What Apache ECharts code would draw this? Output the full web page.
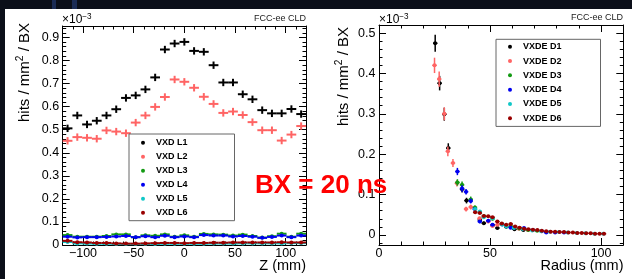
<!DOCTYPE html>
<html>
<head>
<meta charset="utf-8">
<script src="https://cdn.jsdelivr.net/npm/echarts@6/dist/echarts.min.js"></script>
<style>
  html, body { margin: 0; padding: 0; background: #0b0f19; }
  #chart { width: 632px; height: 279px; }
</style>
</head>
<body>
<div id="chart"></div>
<script>
// ---- left panel: hits vs Z, barrel layers (25 bins of 9.6 mm)
const zCenters = [-115.2, -105.6, -96.0, -86.4, -76.8, -67.2, -57.6, -48.0, -38.4, -28.8, -19.2, -9.6,
  0.0, 9.6, 19.2, 28.8, 38.4, 48.0, 57.6, 67.2, 76.8, 86.4, 96.0, 105.6, 115.2];
const vxdL1 = [0.506, 0.562, 0.523, 0.539, 0.562, 0.589, 0.638, 0.649, 0.675, 0.727, 0.848, 0.874,
  0.881, 0.842, 0.838, 0.780, 0.705, 0.705, 0.654, 0.632, 0.585, 0.571, 0.571, 0.590, 0.568];
const vxdL2 = [0.452, 0.468, 0.465, 0.461, 0.497, 0.492, 0.485, 0.531, 0.562, 0.599, 0.642, 0.718,
  0.708, 0.682, 0.643, 0.612, 0.573, 0.579, 0.564, 0.533, 0.498, 0.498, 0.453, 0.479, 0.516];
const vxdL3 = [0.043, 0.036, 0.036, 0.036, 0.039, 0.046, 0.046, 0.034, 0.042, 0.040, 0.046, 0.036,
  0.042, 0.036, 0.048, 0.046, 0.045, 0.041, 0.045, 0.039, 0.032, 0.038, 0.049, 0.036, 0.049];
const vxdL4 = [0.036, 0.033, 0.034, 0.034, 0.035, 0.037, 0.039, 0.034, 0.038, 0.034, 0.040, 0.034,
  0.037, 0.034, 0.043, 0.041, 0.041, 0.037, 0.039, 0.036, 0.031, 0.035, 0.041, 0.034, 0.041];
const vxdL5 = [0.013, 0.007, 0.006, 0.005, 0.005, 0.004, 0.004, 0.004, 0.004, 0.004, 0.005, 0.005,
  0.005, 0.005, 0.005, 0.006, 0.006, 0.006, 0.007, 0.007, 0.007, 0.007, 0.007, 0.008, 0.008];
const vxdL6 = [0.018, 0.012, 0.011, 0.009, 0.009, 0.007, 0.006, 0.006, 0.007, 0.008, 0.009, 0.009,
  0.008, 0.009, 0.009, 0.010, 0.010, 0.011, 0.011, 0.011, 0.011, 0.011, 0.012, 0.011, 0.011];
const zErrHigh = 0.016;   // L1/L2 uncertainty
const zErrLow = 0.003;    // L3..L6 uncertainty

// ---- right panel: hits vs radius, endcap disks
const rD1 = [25.3, 27.3, 29.4, 31.2, 37.4, 39.4, 45.4, 47.2, 51.2, 53.3, 57.3, 61.0, 65.0];
const vD1 = [0.475, 0.376, 0.299, 0.215, 0.113, 0.085, 0.037, 0.029, 0.024, 0.017, 0.020, 0.014, 0.012];
const eD1 = [0.021, 0.018, 0.016, 0.012, 0.008, 0.007, 0.004, 0.004, 0.003, 0.003, 0.003, 0.002, 0.002];
const rD2 = [25.0, 27.1, 29.4, 31.0, 33.3, 35.1, 39.2, 41.3, 45.3, 49.2, 51.1, 53.3, 59.3, 63.0, 67.0];
const vD2 = [0.420, 0.386, 0.300, 0.207, 0.178, 0.128, 0.064, 0.069, 0.041, 0.033, 0.022, 0.025, 0.021, 0.015, 0.012];
const eD2 = [0.019, 0.019, 0.016, 0.012, 0.010, 0.008, 0.006, 0.006, 0.004, 0.004, 0.003, 0.003, 0.003, 0.002, 0.002];
const rD3 = [35.3, 37.4, 41.3, 43.2, 47.3, 51.1, 55.3, 59.3, 63.2, 67.2, 71.2];
const vD3 = [0.130, 0.124, 0.088, 0.068, 0.046, 0.040, 0.027, 0.021, 0.016, 0.012, 0.010];
const eD3 = [0.008, 0.008, 0.007, 0.005, 0.004, 0.004, 0.003, 0.003, 0.002, 0.002, 0.002];
const rD4 = [35.3, 37.4, 39.2, 41.3, 43.1, 45.4, 49.2, 51.1, 55.5, 59.3, 65.3, 69.3, 73.3, 75.3, 79.3, 83.3];
const vD4 = [0.157, 0.115, 0.107, 0.084, 0.064, 0.033, 0.035, 0.025, 0.026, 0.018, 0.017, 0.012, 0.009, 0.006, 0.006, 0.006];
const eD4 = [0.009, 0.008, 0.007, 0.006, 0.005, 0.004, 0.004, 0.003, 0.003, 0.002, 0.002, 0.002, 0.001, 0.001, 0.001, 0.001];
const rD5 = [43.3, 45.4, 47.2, 51.1, 55.5, 57.3, 60.8, 64.8, 69.0, 73.0, 77.0, 81.0, 85.0, 89.0, 93.0, 97.0, 101.0];
const vD5 = [0.064, 0.058, 0.044, 0.041, 0.026, 0.021, 0.017, 0.014, 0.011, 0.009, 0.008, 0.007, 0.006, 0.005, 0.004, 0.003, 0.003];
const rD6 = [43.3, 45.4, 47.2, 49.2, 51.1, 53.3, 55.3, 57.3, 59.3, 61.3, 63.3, 65.3, 67.3, 69.3, 71.3,
  73.3, 75.3, 77.3, 79.3, 81.3, 83.3, 85.3, 87.3, 89.3, 91.3, 93.3, 95.3, 97.3, 99.3, 101.3];
const vD6 = [0.056, 0.054, 0.047, 0.046, 0.044, 0.033, 0.028, 0.025, 0.027, 0.021, 0.018, 0.015, 0.014, 0.013, 0.012,
  0.010, 0.009, 0.008, 0.008, 0.007, 0.007, 0.006, 0.006, 0.005, 0.005, 0.004, 0.004, 0.003, 0.003, 0.003];
const rErrLow = 0.002;

// ---- ticks
const zTicks = [-100, -50, 0, 50, 100];
const rTicks = [0, 50, 100];
const yLeftTicks = [0, 0.1, 0.2, 0.3, 0.4, 0.5, 0.6, 0.7, 0.8, 0.9];
const yRightTicks = [0, 0.1, 0.2, 0.3, 0.4, 0.5];

const colors = ['#000000', '#ff6464', '#139a13', '#0000f0', '#10c8c8', '#990000'];
const FONT = 'Liberation Sans, Arial, Helvetica, sans-serif';

function steps(a, b, s) {
  const out = [];
  for (let v = a; v <= b + 1e-9; v += s) out.push(+v.toFixed(4));
  return out;
}
const fmtX = v => (v < 0 ? '\u2212' + Math.abs(v) : String(v));
const fmtY = v => (v === 0 ? '0' : v.toFixed(1));

function frameAxes(grid, min, max, major, minor, fmt, isX) {
  const base = { gridIndex: grid, type: 'value', min, max, splitLine: { show: false } };
  const line = { show: true, onZero: false, lineStyle: { color: '#000', width: 1 } };
  const noLine = { show: false, onZero: false };
  const tick = (vals, len) => ({ show: true, inside: true, length: len, customValues: vals,
    lineStyle: { color: '#000', width: 1 } });
  const sides = isX ? ['bottom', 'top'] : ['left', 'right'];
  return [
    Object.assign({}, base, { position: sides[0], axisLine: line, axisTick: tick(major, 7),
      axisLabel: { show: true, customValues: major, formatter: fmt, color: '#000',
        fontSize: 12.5, fontFamily: FONT, margin: isX ? 2 : 3.5 } }),
    Object.assign({}, base, { position: sides[0], axisLine: noLine, axisTick: tick(minor, 3.5),
      axisLabel: { show: false } }),
    Object.assign({}, base, { position: sides[1], axisLine: line, axisTick: tick(major, 7),
      axisLabel: { show: false } }),
    Object.assign({}, base, { position: sides[1], axisLine: noLine, axisTick: tick(minor, 3.5),
      axisLabel: { show: false } })
  ];
}

function errSeries(name, color, xs, ys, es, halfW, lineW, dotR, axis) {
  return {
    type: 'custom', name, xAxisIndex: axis, yAxisIndex: axis,
    itemStyle: { color },
    encode: { x: 0, y: 1 },
    data: xs.map((x, i) => [x, ys[i], Array.isArray(es) ? es[i] : es]),
    silent: true,
    renderItem(params, api) {
      const x = api.value(0), y = api.value(1), e = api.value(2);
      const pl = api.coord([x - halfW, y]), pr = api.coord([x + halfW, y]);
      const pt = api.coord([x, y + e]), pb = api.coord([x, y - e]);
      const p = api.coord([x, y]);
      const st = { stroke: color, lineWidth: lineW };
      const children = [
        { type: 'line', shape: { x1: pl[0], y1: pl[1], x2: pr[0], y2: pr[1] }, style: st },
        { type: 'line', shape: { x1: pt[0], y1: pt[1], x2: pb[0], y2: pb[1] }, style: st }
      ];
      if (dotR) children.push({ type: 'circle', shape: { cx: p[0], cy: p[1], r: dotR }, style: { fill: color } });
      return { type: 'group', children };
    }
  };
}

const leftNames = ['VXD L1', 'VXD L2', 'VXD L3', 'VXD L4', 'VXD L5', 'VXD L6'];
const rightNames = ['VXDE D1', 'VXDE D2', 'VXDE D3', 'VXDE D4', 'VXDE D5', 'VXDE D6'];

const chart = echarts.init(document.getElementById('chart'));

const legendText = { fontSize: 9, fontWeight: 'bold', color: '#000', fontFamily: FONT };

function supText(x, y, main, sup, size, rot, align) {
  return {
    type: 'text', x, y, rotation: rot || 0, z: 50,
    style: {
      text: '{a|' + main[0] + '}{s|' + sup + '}{a|' + (main[1] || '') + '}',
      align: align || 'left', verticalAlign: 'middle',
      rich: {
        a: { fontSize: size, fontFamily: FONT, color: '#000', lineHeight: size + 3 },
        s: { fontSize: size * 0.68, fontFamily: FONT, color: '#000', verticalAlign: 'top', lineHeight: size * 0.55 }
      }
    }
  };
}

const option = {
  animation: false,
  backgroundColor: '#0b0f19',
  grid: [
    { left: 62.7, top: 26, width: 243.3, height: 219, outerBoundsMode: 'none' },
    { left: 379, top: 25, width: 244.3, height: 220, outerBoundsMode: 'none' }
  ],
  xAxis: [
    ...frameAxes(0, -120, 120, zTicks, steps(-120, 120, 10), fmtX, true),
    ...frameAxes(1, 0, 110, rTicks, steps(0, 110, 10), fmtX, true)
  ],
  yAxis: [
    ...frameAxes(0, 0, 0.95, yLeftTicks, steps(0, 0.94, 0.02), fmtY, false),
    ...frameAxes(1, -0.025, 0.52, yRightTicks, steps(-0.02, 0.52, 0.02), fmtY, false)
  ],
  legend: [
    {
      data: leftNames.map(n => ({ name: n, icon: 'circle' })),
      orient: 'vertical', left: 129, top: 134, itemWidth: 16, itemHeight: 4, itemGap: 0,
      padding: [1.7, 47, 1, 12], borderColor: '#666', borderWidth: 1, backgroundColor: '#fff',
      selectedMode: false, textStyle: Object.assign({ lineHeight: 14 }, legendText)
    },
    {
      data: rightNames.map(n => ({ name: n, icon: 'circle' })),
      orient: 'vertical', left: 496, top: 39.3, itemWidth: 16, itemHeight: 4, itemGap: 0,
      padding: [0.3, 39, 1, 12], borderColor: '#666', borderWidth: 1, backgroundColor: '#fff',
      selectedMode: false, textStyle: Object.assign({ lineHeight: 14.3 }, legendText)
    }
  ],
  graphic: [
    { type: 'rect', z: -100, shape: { x: 5, y: 9, width: 627, height: 270 }, style: { fill: '#ffffff' } },
    { type: 'rect', z: -100, shape: { x: 52, y: 0, width: 4, height: 9 }, style: { fill: '#1b2c55' } },
    { type: 'rect', z: -100, shape: { x: 72, y: 0, width: 5, height: 9 }, style: { fill: '#1b2c55' } },
    supText(24.5, 72.5, ['hits / mm', ' / BX'], '2', 15, Math.PI / 2, 'center'),
    supText(343.5, 76.5, ['hits / mm', ' / BX'], '2', 15, Math.PI / 2, 'center'),
    supText(62, 20, ['\u00d710', ''], '\u22123', 12),
    supText(379, 20, ['\u00d710', ''], '\u22123', 12),
    { type: 'text', x: 306, y: 18.5, z: 50, style: { text: 'FCC-ee CLD', align: 'right', verticalAlign: 'middle',
      fontSize: 9, fontFamily: FONT, fill: '#222' } },
    { type: 'text', x: 623, y: 18, z: 50, style: { text: 'FCC-ee CLD', align: 'right', verticalAlign: 'middle',
      fontSize: 9, fontFamily: FONT, fill: '#222' } },
    { type: 'text', x: 306, y: 265.5, z: 50, style: { text: 'Z (mm)', align: 'right', verticalAlign: 'middle',
      fontSize: 14.5, fontFamily: FONT, fill: '#000' } },
    { type: 'text', x: 623.5, y: 265.5, z: 50, style: { text: 'Radius (mm)', align: 'right', verticalAlign: 'middle',
      fontSize: 14.5, fontFamily: FONT, fill: '#000' } },
    { type: 'text', x: 255, y: 185.5, z: 100, style: { text: 'BX = 20 ns', align: 'left', verticalAlign: 'middle',
      fontSize: 26, fontWeight: 'bold', fontFamily: FONT, fill: '#ff0000' } }
  ],
  series: [
    errSeries(leftNames[0], colors[0], zCenters, vxdL1, zErrHigh, 4.8, 2, 0, 0),
    errSeries(leftNames[1], colors[1], zCenters, vxdL2, zErrHigh, 4.8, 2, 0, 0),
    errSeries(leftNames[2], colors[2], zCenters, vxdL3, zErrLow, 4.8, 2, 2, 0),
    errSeries(leftNames[3], colors[3], zCenters, vxdL4, zErrLow, 4.8, 2, 2, 0),
    errSeries(leftNames[4], colors[4], zCenters, vxdL5, zErrLow, 4.8, 2, 2, 0),
    errSeries(leftNames[5], colors[5], zCenters, vxdL6, zErrLow, 4.8, 2, 2, 0),
    errSeries(rightNames[0], colors[0], rD1, vD1, eD1, 1, 1.5, 2, 4),
    errSeries(rightNames[1], colors[1], rD2, vD2, eD2, 1, 1.5, 2, 4),
    errSeries(rightNames[2], colors[2], rD3, vD3, eD3, 1, 1.5, 2, 4),
    errSeries(rightNames[3], colors[3], rD4, vD4, eD4, 1, 1.5, 2, 4),
    errSeries(rightNames[4], colors[4], rD5, vD5, rErrLow, 1, 1.5, 2, 4),
    errSeries(rightNames[5], colors[5], rD6, vD6, rErrLow, 1, 1.5, 2, 4)
  ]
};

chart.setOption(option);
</script>
</body>
</html>
